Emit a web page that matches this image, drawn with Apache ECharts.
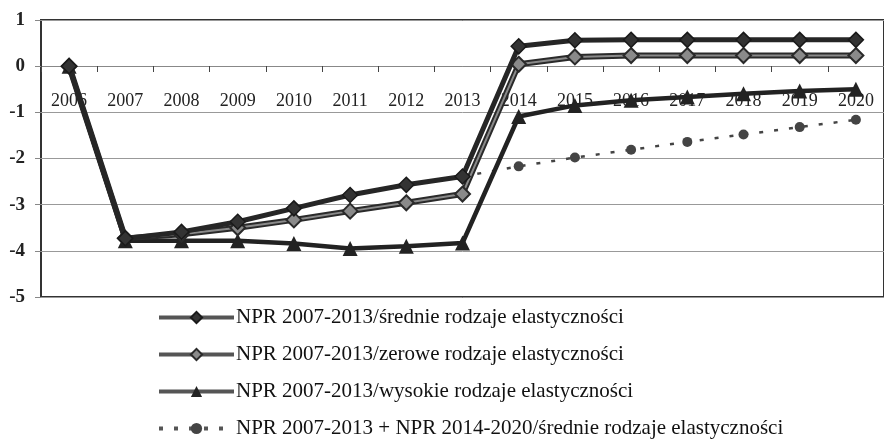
<!DOCTYPE html>
<html>
<head>
<meta charset="utf-8">
<script src="https://cdn.jsdelivr.net/npm/echarts@6/dist/echarts.min.js"></script>
<style>html,body{margin:0;padding:0;background:#fff}#c{width:884px;height:444px}</style>
</head>
<body>
<div id="c"></div>
<script>
var years = ['2006','2007','2008','2009','2010','2011','2012','2013','2014','2015','2016','2017','2018','2019','2020'];
var yTicks = [1, 0, -1, -2, -3, -4, -5];
var sredniName = 'NPR 2007-2013/średnie rodzaje elastyczności';
var zeroweName = 'NPR 2007-2013/zerowe rodzaje elastyczności';
var wysokieName = 'NPR 2007-2013/wysokie rodzaje elastyczności';
var lacznieName = 'NPR 2007-2013 + NPR 2014-2020/średnie rodzaje elastyczności';
var srednie  = [0, -3.73, -3.59, -3.37, -3.08, -2.79, -2.57, -2.39, 0.43, 0.56, 0.57, 0.57, 0.57, 0.57, 0.57];
var zerowe   = [0, -3.73, -3.64, -3.50, -3.33, -3.14, -2.96, -2.77, 0.04, 0.20, 0.23, 0.23, 0.23, 0.23, 0.23];
var wysokie  = [0, -3.78, -3.78, -3.78, -3.84, -3.95, -3.90, -3.83, -1.09, -0.85, -0.74, -0.67, -0.60, -0.54, -0.50];
var lacznie  = [null, null, null, null, null, null, null, -2.39, -2.17, -1.98, -1.81, -1.64, -1.48, -1.32, -1.16];

var serif = 'Liberation Serif';
var chart = echarts.init(document.getElementById('c'));
chart.setOption({
  animation: false,
  backgroundColor: '#fff',
  grid: { left: 41, top: 20, width: 849, height: 277, show: true, borderColor: '#333', borderWidth: 2, backgroundColor: 'transparent' },
  xAxis: {
    type: 'category', data: years, boundaryGap: true,
    offset: -231,
    axisLine: { onZero: false, lineStyle: { color: '#888', width: 1 } },
    axisTick: { show: true, length: 6, lineStyle: { color: '#444' } },
    axisLabel: { fontFamily: serif, fontSize: 18, color: '#222', margin: 26 },
    splitLine: { show: false }
  },
  yAxis: {
    type: 'value', min: -5, max: 1, interval: 1,
    axisLine: { show: false },
    axisTick: { show: true, length: 6, lineStyle: { color: '#888' } },
    axisLabel: { fontFamily: serif, fontSize: 19, fontWeight: 'bold', color: '#222', margin: 16,
      formatter: function (v) { return yTicks.indexOf(v) >= 0 ? String(v) : ''; } },
    splitLine: { lineStyle: { color: '#999', width: 1 } }
  },
  legend: {
    orient: 'vertical', left: 157, top: 307, padding: 0,
    itemWidth: 75, itemHeight: 14, itemGap: 16,
    data: [sredniName, zeroweName, wysokieName, lacznieName],
    lineStyle: { width: 4, color: '#555' },
    textStyle: { fontFamily: serif, fontSize: 21, color: '#111', lineHeight: 21, padding: [0, 0, 0, -3] }
  },
  series: [
    { name: lacznieName, type: 'line', data: lacznie, z: 1,
      symbol: 'circle', symbolSize: 10,
      itemStyle: { color: '#444' },
      lineStyle: { color: '#444', width: 2.5, type: [4, 11] } },
    { name: wysokieName, type: 'line', data: wysokie, z: 2,
      symbol: 'triangle', symbolSize: 15,
      itemStyle: { color: '#222' },
      lineStyle: { color: '#222', width: 4.5 } },
    { name: 'zerowe-obrys', type: 'line', data: zerowe, z: 3, silent: true,
      symbol: 'none', lineStyle: { color: '#2a2a2a', width: 6 } },
    { name: zeroweName, type: 'line', data: zerowe, z: 4,
      symbol: 'diamond', symbolSize: 15,
      itemStyle: { color: '#8a8a8a', borderColor: '#2a2a2a', borderWidth: 2 },
      lineStyle: { color: '#8a8a8a', width: 2 } },
    { name: sredniName, type: 'line', data: srednie, z: 5,
      symbol: 'diamond', symbolSize: 15,
      itemStyle: { color: '#333', borderColor: '#1a1a1a', borderWidth: 1.5 },
      lineStyle: { color: '#262626', width: 5 } }
  ]
});
</script>
</body>
</html>
